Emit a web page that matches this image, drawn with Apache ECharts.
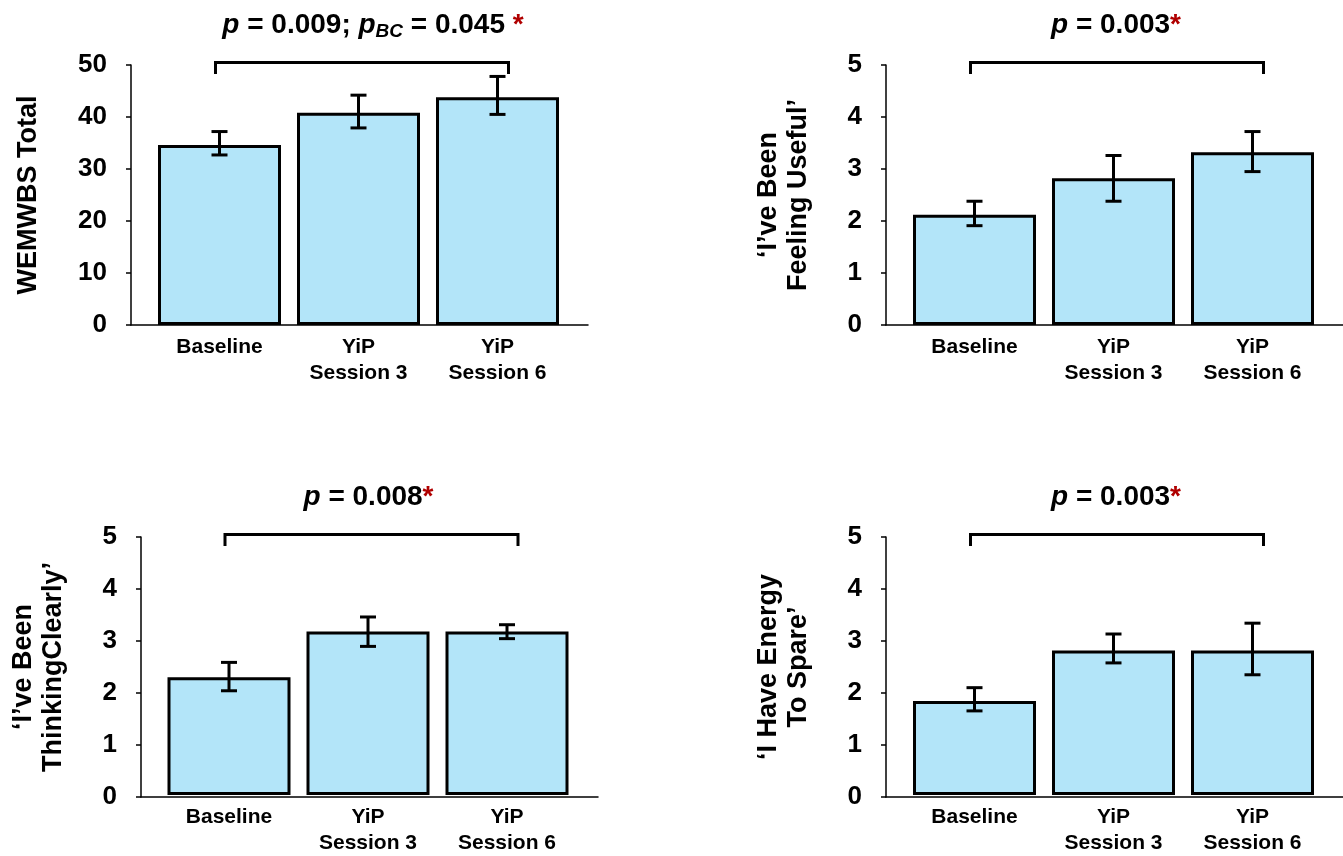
<!DOCTYPE html>
<html>
<head>
<meta charset="utf-8">
<script src="https://cdn.jsdelivr.net/npm/echarts@6/dist/echarts.min.js"></script>
<style>
  html, body { margin: 0; padding: 0; background: #fff; }
  #chart { width: 1343px; height: 856px; }
</style>
</head>
<body>
<div id="chart"></div>
<script>
// Time points shared by all four panels
const categories = ['Baseline', 'YiP\nSession 3', 'YiP\nSession 6'];

// WEMWBS total score: mean with lower / upper error limits
const wemwbsMean = [34.6, 40.8, 43.8];
const wemwbsLow  = [32.7, 37.9, 40.5];
const wemwbsHigh = [37.2, 44.2, 47.8];

// Item: 'I've been feeling useful'
const usefulMean = [2.12, 2.82, 3.32];
const usefulLow  = [1.91, 2.38, 2.95];
const usefulHigh = [2.38, 3.26, 3.72];

// Item: 'I've been thinking clearly'
const clearlyMean = [2.28, 3.17, 3.17];
const clearlyLow  = [2.02, 2.88, 3.03];
const clearlyHigh = [2.57, 3.45, 3.30];

// Item: 'I have energy to spare'
const energyMean = [1.82, 2.80, 2.80];
const energyLow  = [1.63, 2.56, 2.33];
const energyHigh = [2.08, 3.12, 3.33];

// Axis titles, ranges and tick steps
const yNames = ['WEMWBS Total', '‘I’ve Been\nFeeling Useful’', '‘I’ve Been\nThinkingClearly’', '‘I Have Energy\nTo Spare’'];
const yMaxes = [50, 5, 5, 5];
const ySteps = [10, 1, 1, 1];

// Significance annotations above each panel
const pTexts = [
  '{i|p} = 0.009; {i|p}{sub|BC} = 0.045 {r|*}',
  '{i|p} = 0.003{r|*}',
  '{i|p} = 0.008{r|*}',
  '{i|p} = 0.003{r|*}'
];

const means = [wemwbsMean, usefulMean, clearlyMean, energyMean];
const lows  = [wemwbsLow, usefulLow, clearlyLow, energyLow];
const highs = [wemwbsHigh, usefulHigh, clearlyHigh, energyHigh];

// Panel placement (pixels)
const layout = [
  { axisLeft: 131, barLeft: 150,   top: 65,  titleX: 373 },
  { axisLeft: 886, barLeft: 905,   top: 65,  titleX: 1116 },
  { axisLeft: 141, barLeft: 159.5, top: 537, titleX: 368.5 },
  { axisLeft: 886, barLeft: 905,   top: 537, titleX: 1116 }
];
const plotH = 260, bandW = 417, lineW = 457;

const FONT = '"Liberation Sans", Arial, Helvetica, sans-serif';
const BAR_FILL = '#b3e5f9';
const STAR = '#b00000';

const grid = [], xAxis = [], yAxis = [], series = [], graphic = [];

layout.forEach((L, k) => {
  const gA = 2 * k, gB = 2 * k + 1;
  // grid holding the visible axes
  grid.push({ left: L.axisLeft, top: L.top, width: lineW, height: plotH, containLabel: false });
  // grid holding the bars
  grid.push({ left: L.barLeft, top: L.top, width: bandW, height: plotH, containLabel: false });

  xAxis.push({
    gridIndex: gA, type: 'value', min: 0, max: 1,
    axisLine: { show: true, lineStyle: { color: '#000', width: 1.5 } },
    axisTick: { show: false }, axisLabel: { show: false }, splitLine: { show: false }
  });
  xAxis.push({
    gridIndex: gB, type: 'category', data: categories,
    axisLine: { show: false }, axisTick: { show: false }, splitLine: { show: false },
    axisLabel: {
      interval: 0, margin: 9, color: '#000', fontFamily: FONT,
      fontWeight: 'bold', fontSize: 21, lineHeight: 26
    }
  });

  yAxis.push({
    gridIndex: gA, type: 'value', min: 0, max: yMaxes[k], interval: ySteps[k],
    name: yNames[k], nameLocation: 'middle', nameGap: 102, nameRotate: 90,
    nameTextStyle: {
      color: '#000', fontFamily: FONT, fontWeight: 'bold', fontSize: 27,
      lineHeight: 30, verticalAlign: 'middle', align: 'center'
    },
    axisLine: { show: true, lineStyle: { color: '#000', width: 1.5 } },
    axisTick: { show: true, length: 5, lineStyle: { color: '#000', width: 1.5 } },
    axisLabel: { margin: 24, color: '#000', fontFamily: FONT, fontWeight: 'bold', fontSize: 26 },
    splitLine: { show: false }
  });
  yAxis.push({ gridIndex: gB, type: 'value', min: 0, max: yMaxes[k], show: false, splitLine: { show: false } });

  series.push({
    type: 'bar', xAxisIndex: 2 * k + 1, yAxisIndex: 2 * k + 1,
    data: means[k], barWidth: 123,
    itemStyle: { color: BAR_FILL, borderColor: '#000', borderWidth: 3 },
    emphasis: { disabled: true }, z: 3
  });

  // error bars
  series.push({
    type: 'custom', xAxisIndex: 2 * k + 1, yAxisIndex: 2 * k + 1,
    data: categories.map((c, i) => [i, lows[k][i], highs[k][i]]),
    z: 5, silent: true,
    renderItem(params, api) {
      const i = api.value(0);
      const lo = api.coord([i, api.value(1)]);
      const hi = api.coord([i, api.value(2)]);
      const cap = 8;
      const st = { stroke: '#000', lineWidth: 3 };
      return {
        type: 'group',
        children: [
          { type: 'line', shape: { x1: lo[0], y1: lo[1], x2: hi[0], y2: hi[1] }, style: st },
          { type: 'line', shape: { x1: lo[0] - cap, y1: lo[1], x2: lo[0] + cap, y2: lo[1] }, style: st },
          { type: 'line', shape: { x1: hi[0] - cap, y1: hi[1], x2: hi[0] + cap, y2: hi[1] }, style: st }
        ]
      };
    }
  });

  // comparison bracket from Baseline to Session 6
  series.push({
    type: 'custom', xAxisIndex: 2 * k + 1, yAxisIndex: 2 * k + 1,
    data: [[0, categories.length - 1, yMaxes[k]]],
    z: 5, silent: true, clip: false,
    renderItem(params, api) {
      const a = api.coord([api.value(0), api.value(2)]);
      const b = api.coord([api.value(1), api.value(2)]);
      const x1 = a[0] - 4, x2 = b[0] + 11, yt = a[1] - 2.5, yb = a[1] + 9;
      return {
        type: 'polyline',
        shape: { points: [[x1, yb], [x1, yt], [x2, yt], [x2, yb]] },
        style: { stroke: '#000', lineWidth: 3, fill: null }
      };
    }
  });

  graphic.push({
    type: 'text', x: L.titleX, y: L.top - 40, silent: true,
    style: {
      text: pTexts[k], align: 'center', verticalAlign: 'middle',
      fill: '#000', font: 'bold 28px ' + FONT, lineHeight: 32,
      rich: {
        i: { fontStyle: 'italic', fontWeight: 'bold', fontSize: 28, fontFamily: FONT, lineHeight: 32 },
        sub: { fontStyle: 'italic', fontWeight: 'bold', fontSize: 19, fontFamily: FONT, lineHeight: 21, verticalAlign: 'bottom' },
        r: { fill: STAR, fontWeight: 'bold', fontSize: 28, fontFamily: FONT, lineHeight: 32 }
      }
    }
  });
});

const chart = echarts.init(document.getElementById('chart'), null, { renderer: 'canvas' });
chart.setOption({
  animation: false,
  backgroundColor: '#fff',
  textStyle: { fontFamily: FONT },
  grid, xAxis, yAxis, series, graphic
});
</script>
</body>
</html>
